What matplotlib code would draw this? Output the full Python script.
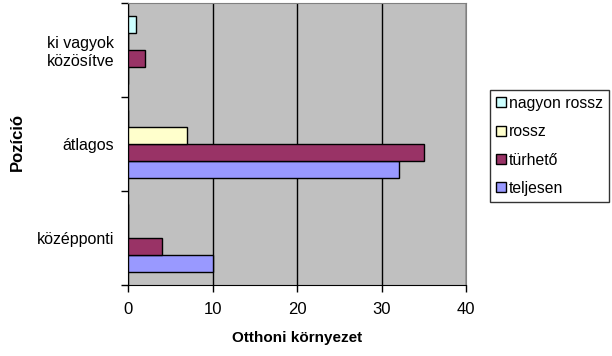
import numpy as np
import matplotlib.pyplot as plt
from matplotlib.patches import Patch

plt.rcParams['font.family'] = ['Liberation Sans', 'DejaVu Sans']

# Adatok
categories = ["középponti", "átlagos", "ki vagyok\nközösítve"]
series = ["teljesen", "türhető", "rossz", "nagyon rossz"]
teljesen = [10, 32, 0]
turheto = [4, 35, 2]
rossz = [0, 7, 0]
nagyon_rossz = [0, 0, 1]
colors = ["#9999FF", "#993366", "#FFFFCC", "#CCFFFF"]

values = [teljesen, turheto, rossz, nagyon_rossz]

fig = plt.figure(figsize=(6.12, 3.56), dpi=100)
ax = fig.add_axes([0.209, 0.199, 0.553, 0.793])
ax.set_facecolor("#C0C0C0")

y = np.arange(len(categories))
h = 0.18
for i, (name, vals, c) in enumerate(zip(series, values, colors)):
    offs = (i - 1.5) * h
    ax.barh(y + offs, vals, height=h, color=c, edgecolor="black", linewidth=1, zorder=3)

ax.set_xlim(0, 40)
ax.set_ylim(-0.5, 2.5)
ax.set_xticks([0, 10, 20, 30, 40])
ax.set_yticks([-0.5, 0.5, 1.5, 2.5])
ax.set_yticklabels([])
ax.set_yticks(y, minor=True)
ax.set_yticklabels(categories, minor=True, fontsize=11.5, multialignment="center")
ax.tick_params(axis="y", which="minor", length=0, pad=10)
ax.tick_params(axis="y", which="major", length=5, direction="out", width=1)
ax.tick_params(axis="x", length=5, direction="out", width=1, labelsize=12, pad=7)

ax.grid(axis="x", color="black", linewidth=1, zorder=1)
ax.set_axisbelow(True)
for side in ["top", "right"]:
    ax.spines[side].set_color("#808080")
ax.spines["left"].set_color("black")
ax.spines["bottom"].set_color("black")

ax.set_xlabel("Otthoni környezet", fontsize=11, fontweight="bold", labelpad=10)
fig.text(0.028, 0.6, "Pozíció", rotation=90, fontsize=12, fontweight="bold",
         ha="center", va="center")

handles = [Patch(facecolor=c, edgecolor="black", label=s) for s, c in zip(series, colors)]
handles = handles[::-1]
leg = fig.legend(handles=handles, loc="upper left", bbox_to_anchor=(0.801, 0.748),
                 frameon=True, fancybox=False, edgecolor="black", fontsize=11.3,
                 handlelength=0.6, handleheight=0.6, handletextpad=0.2,
                 labelspacing=0.85, borderpad=0.4, borderaxespad=0)
leg.get_frame().set_linewidth(1)

fig.savefig("out.png", dpi=100)
